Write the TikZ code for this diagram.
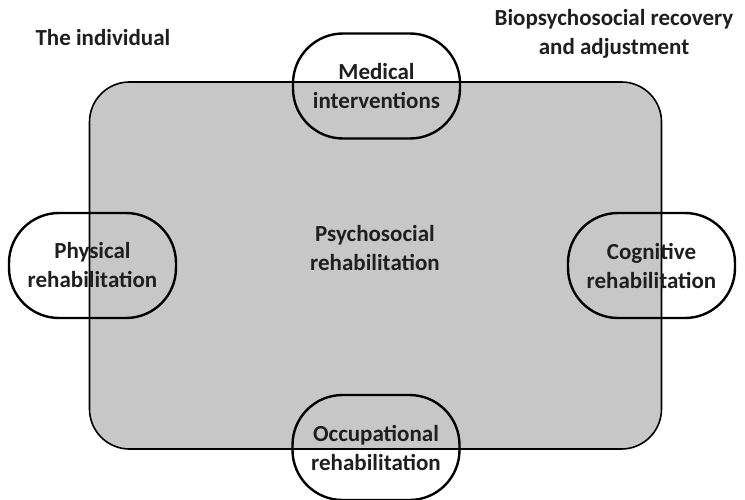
\documentclass[tikz,border=0pt]{standalone}
\usepackage{fontspec}
\setmainfont{Carlito}
\begin{document}
\begin{tikzpicture}[x=1pt,y=-1pt,
  label text/.style={font=\bfseries\fontsize{23}{29}\selectfont, align=center, text=black!88},
  pill/.style={draw=black, line width=2.4pt, rounded corners=50pt,
    minimum width=167pt, minimum height=105pt, inner sep=0pt, label text},
  core/.style={draw=black, line width=1.6pt, fill=black!22, rounded corners=40pt,
    minimum width=572pt, minimum height=367pt, inner sep=0pt}]
  \useasboundingbox (0,0) rectangle (745,500);
  % central field
  \node[core] (psy) at (375.5,265.5) {};
  \node[label text] (psytext) at (375,248) {Psychosocial\\rehabilitation};
  % four surrounding interventions
  \node[pill] (med) at (376.5,86) {Medical\\interventions};
  \node[pill] (phys) at (92.5,265.5) {Physical\\rehabilitation};
  \node[pill] (cog) at (651.5,265.5) {Cognitive\\rehabilitation};
  \node[pill] (occ) at (376,447.5) {Occupational\\rehabilitation};
  % corner captions
  \node[label text, anchor=west] (ind) at (32,38) {The individual};
  \node[label text] (bio) at (614,34) {Biopsychosocial recovery\\and adjustment};
\end{tikzpicture}
\end{document}
